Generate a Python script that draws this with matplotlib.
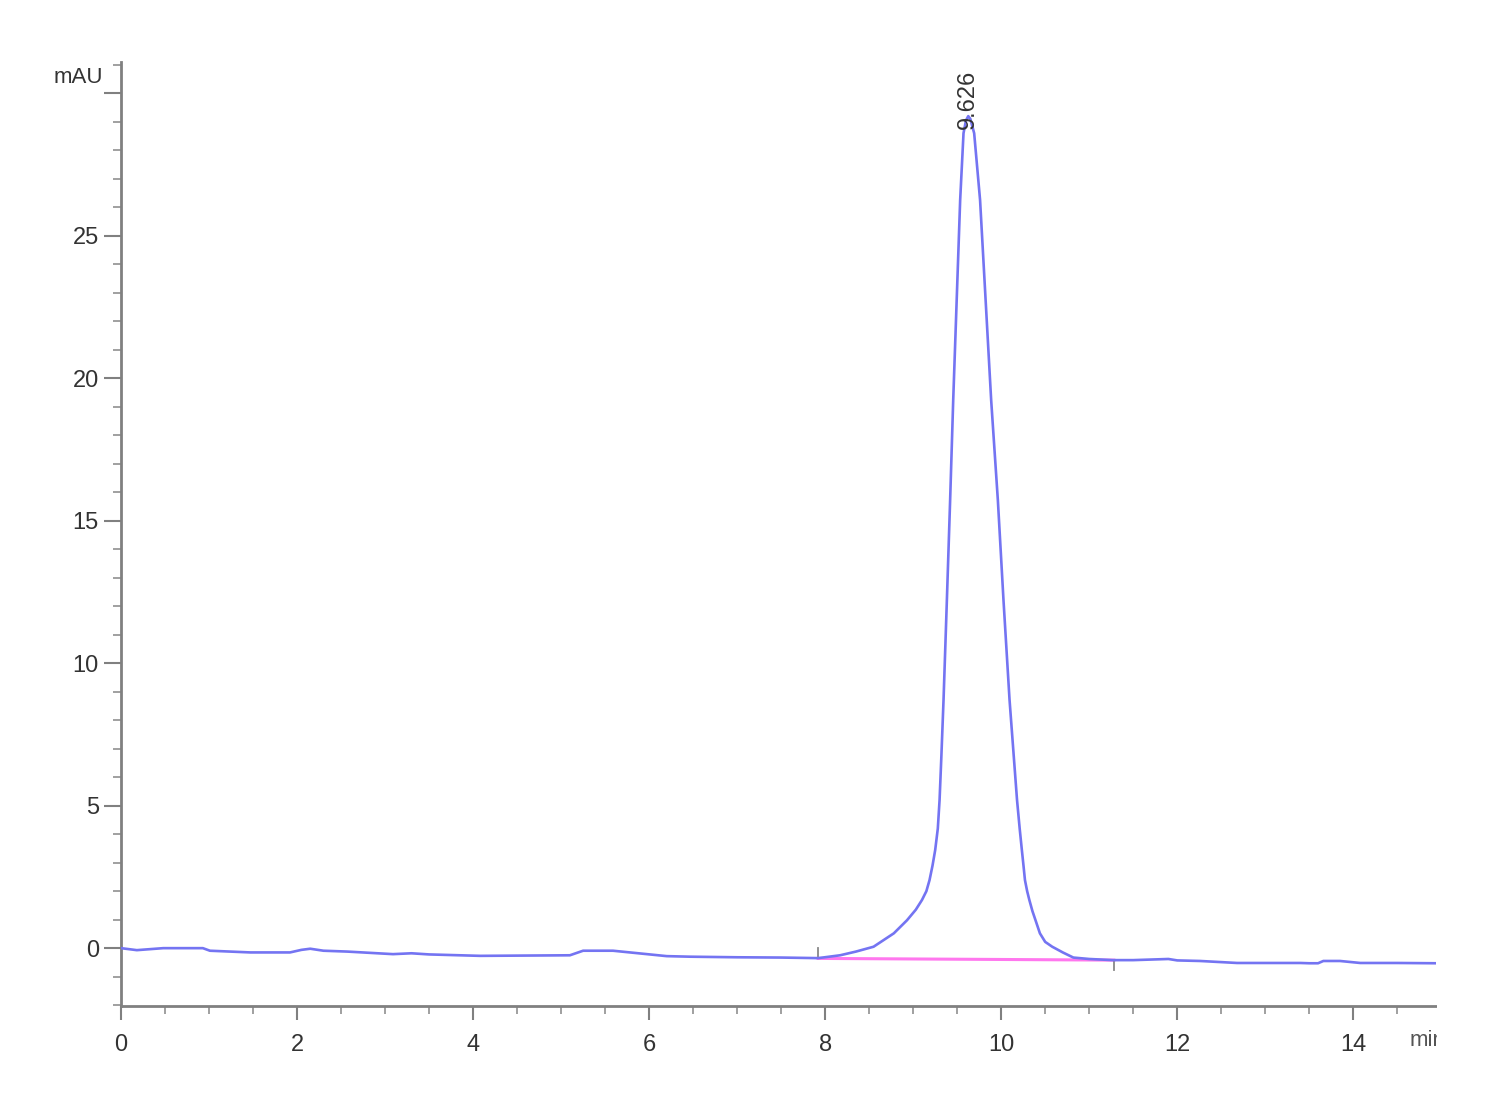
import numpy as np
import matplotlib.pyplot as plt
from matplotlib.ticker import MultipleLocator, FixedLocator
from matplotlib.patches import Rectangle

# chromatogram trace (time in min, signal in mAU)
t = [0.0, 0.18, 0.48, 0.93, 1.01, 1.47, 1.92, 2.05, 2.15, 2.3, 2.57,
     3.09, 3.3, 3.5, 4.08, 4.6, 5.1, 5.25, 5.59, 6.2, 6.47, 7.0, 7.5,
     7.92, 8.17, 8.35, 8.55, 8.78, 8.93, 9.03, 9.10, 9.15, 9.186, 9.22, 9.25,
     9.28, 9.30, 9.32, 9.345, 9.383, 9.42, 9.455, 9.534, 9.572, 9.60, 9.626,
     9.65, 9.693, 9.76, 9.886, 9.962, 10.026, 10.095, 10.18, 10.21, 10.235,
     10.255, 10.27, 10.295, 10.32, 10.355, 10.39, 10.44, 10.50, 10.58, 10.70,
     10.82, 11.0, 11.27, 11.5, 11.8, 11.9, 12.0, 12.26, 12.68, 13.4,
     13.5, 13.6, 13.66, 13.85, 14.08, 14.5, 14.94]
mau = [0.0, -0.07, 0.0, 0.0, -0.09, -0.15, -0.15, -0.06, -0.02, -0.09, -0.12,
       -0.21, -0.18, -0.22, -0.27, -0.26, -0.25, -0.09, -0.09, -0.28, -0.3, -0.32, -0.33,
       -0.35, -0.25, -0.12, 0.05, 0.52, 0.98, 1.35, 1.69, 2.0, 2.39, 2.9, 3.44,
       4.2, 5.2, 6.7, 8.71, 12.22, 15.73, 19.24, 26.26, 28.6, 29.05, 29.2,
       29.1, 28.6, 26.26, 19.24, 15.73, 12.22, 8.71, 5.2, 4.2, 3.44,
       2.85, 2.39, 2.0, 1.69, 1.3, 0.98, 0.52, 0.22, 0.05, -0.15,
       -0.33, -0.38, -0.42, -0.42, -0.39, -0.38, -0.43, -0.45, -0.52, -0.52,
       -0.53, -0.53, -0.45, -0.45, -0.52, -0.52, -0.53]

# integration baseline
base_t = [7.92, 11.28]
base_y = [-0.36, -0.42]

peak_t = 9.626
peak_label = '9.626'

y_major = [0, 5, 10, 15, 20, 25, 30]
y_labels = ['0', '5', '10', '15', '20', '25', '']

plt.rcParams['font.family'] = ['Liberation Sans Narrow', 'Liberation Sans', 'DejaVu Sans']

fig = plt.figure(figsize=(15, 11), dpi=100)
ax = fig.add_axes([121/1500, 1 - 1006/1100, (1436 - 121)/1500, (1006 - 62)/1100])

ax.plot(t, mau, color='#7474f2', lw=1.9, zorder=3)
ax.plot(base_t, base_y, color='#ff77ee', lw=2.2, zorder=2)
# start / end marks of the integration
ax.plot([base_t[0], base_t[0]], [base_y[0], base_y[0] + 0.35], color='#888888', lw=1.3)
ax.plot([base_t[1], base_t[1]], [base_y[1], base_y[1] - 0.35], color='#888888', lw=1.3)

ax.text(peak_t, 28.75, peak_label, rotation=90, ha='center', va='bottom',
        fontsize=17, color='#333333')

ax.set_xlim(0, 14.94)
ax.set_ylim(-2.03, 31.1)

ax.xaxis.set_major_locator(MultipleLocator(2))
ax.xaxis.set_minor_locator(MultipleLocator(0.5))
ax.yaxis.set_major_locator(FixedLocator(y_major))
ax.set_yticklabels(y_labels)
ax.yaxis.set_minor_locator(MultipleLocator(1))

for s in ['top', 'right']:
    ax.spines[s].set_visible(False)
for s in ['left', 'bottom']:
    ax.spines[s].set_color('#808080')
    ax.spines[s].set_linewidth(2)

ax.tick_params(axis='both', which='major', colors='#808080', labelcolor='#333333',
               labelsize=17, width=1.5)
ax.tick_params(axis='x', which='major', length=10, pad=10)
ax.tick_params(axis='y', which='major', length=12, pad=4)
ax.tick_params(axis='both', which='minor', colors='#999999', length=6, width=1.3)

fig.text(103/1500, 1 - 77/1100, 'mAU', ha='right', va='center', fontsize=16, color='#333333')
fig.text(1410/1500, 1 - 1040/1100, 'min', ha='left', va='center', fontsize=16, color='#555555')
# the original picture is cut just right of the axis
fig.patches.append(Rectangle((1437/1500, 0), 1, 1, transform=fig.transFigure,
                             facecolor='white', edgecolor='none', zorder=10))

fig.savefig('out.png', dpi=100, facecolor='white')
